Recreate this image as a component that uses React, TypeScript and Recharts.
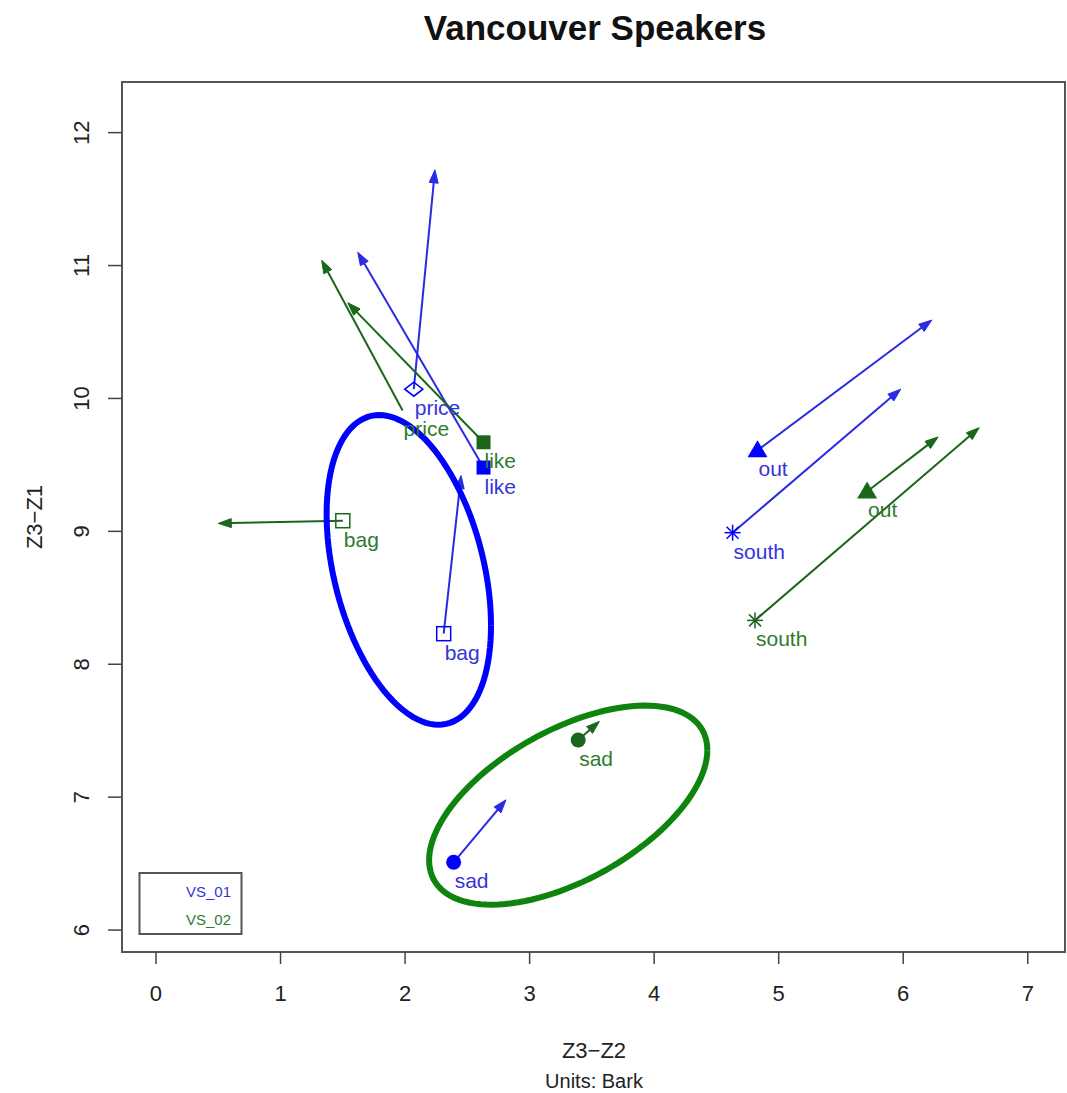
import React from 'react';
import {
  ScatterChart,
  Scatter,
  XAxis,
  YAxis,
  ReferenceLine,
  ReferenceArea,
  Customized,
} from 'recharts';

// ---------- data ----------
const words = ['price', 'like', 'bag', 'sad', 'out', 'south'];
const vs01Markers = ['diamond', 'squareFilled', 'squareOpen', 'circleFilled', 'triangleFilled', 'asterisk'];
const vs02Markers = ['none', 'squareFilled', 'squareOpen', 'circleFilled', 'triangleFilled', 'asterisk'];

const vs01X = [2.07, 2.63, 2.31, 2.39, 4.83, 4.63];
const vs01Y = [10.07, 9.48, 8.23, 6.51, 9.61, 8.99];
const vs01EndX = [2.24, 1.62, 2.45, 2.81, 6.23, 5.98];
const vs01EndY = [11.72, 11.1, 9.42, 6.98, 10.59, 10.07];

const vs02X = [1.98, 2.63, 1.5, 3.39, 5.71, 4.81];
const vs02Y = [9.91, 9.67, 9.08, 7.43, 9.3, 8.33];
const vs02EndX = [1.33, 1.54, 0.5, 3.56, 6.28, 6.61];
const vs02EndY = [11.04, 10.72, 9.06, 7.57, 9.71, 9.78];

// ellipse parameters: [VS_01 ellipse, VS_02 ellipse]
const ellipseCenterX = [2.03, 3.31];
const ellipseCenterY = [8.71, 6.94];
const ellipseHalfWidth = [0.66, 1.117];
const ellipseHalfHeight = [1.165, 0.749];
const ellipseCorrelation = [-0.36, 0.553];

const xTicks = [0, 1, 2, 3, 4, 5, 6, 7];
const yTicks = [6, 7, 8, 9, 10, 11, 12];
const xDomain: [number, number] = [-0.273, 7.299];
const yDomain: [number, number] = [5.835, 12.381];

const speakers = ['VS_01', 'VS_02'];

// ---------- styles ----------
const BLUE = '#0000ff';
const BLUE_LINE = '#2a2ae4';
const BLUE_TEXT = '#3434d8';
const GREEN = '#1a661a';
const GREEN_TEXT = '#2f7a2f';
const GREEN_ELLIPSE = '#0e840e';
const FONT = '"Liberation Sans", Arial, Helvetica, sans-serif';

// ---------- derived tables ----------
const buildPoints = (xs: number[], ys: number[], markers: string[]) =>
  words.map((w, i) => ({ word: w, x: xs[i], y: ys[i], marker: markers[i] }));

const vs01Points = buildPoints(vs01X, vs01Y, vs01Markers);
const vs02Points = buildPoints(vs02X, vs02Y, vs02Markers);

const buildArrows = (xs: number[], ys: number[], ex: number[], ey: number[]) =>
  words.map((w, i) => ({ word: w, from: { x: xs[i], y: ys[i] }, to: { x: ex[i], y: ey[i] } }));

const vs01Arrows = buildArrows(vs01X, vs01Y, vs01EndX, vs01EndY);
const vs02Arrows = buildArrows(vs02X, vs02Y, vs02EndX, vs02EndY);

const ellipseOutline = (k: number) => {
  const n = 120;
  const d = Math.acos(ellipseCorrelation[k]);
  const pts: { x: number; y: number }[] = [];
  for (let i = 0; i <= n; i++) {
    const t = (2 * Math.PI * i) / n;
    pts.push({
      x: ellipseCenterX[k] + ellipseHalfWidth[k] * Math.cos(t),
      y: ellipseCenterY[k] + ellipseHalfHeight[k] * Math.cos(t - d),
    });
  }
  return pts;
};
const ellipse01 = ellipseOutline(0);
const ellipse02 = ellipseOutline(1);

// ---------- shapes ----------
const arrowShape = (color: string) => (props: any) => {
  const { x1, y1, x2, y2 } = props;
  if (x1 == null || x2 == null) return <g />;
  const ang = Math.atan2(y2 - y1, x2 - x1);
  const L = 13;
  const W = 4.5;
  const bx = x2 - L * Math.cos(ang);
  const by = y2 - L * Math.sin(ang);
  const px = -Math.sin(ang) * W;
  const py = Math.cos(ang) * W;
  return (
    <g>
      <line x1={x1} y1={y1} x2={bx} y2={by} stroke={color} strokeWidth={2} />
      <polygon
        points={`${x2},${y2} ${bx + px},${by + py} ${bx - px},${by - py}`}
        fill={color}
        stroke={color}
        strokeWidth={1}
        strokeLinejoin="round"
      />
    </g>
  );
};

const markerShape = (color: string, textColor: string) => (props: any) => {
  const { cx, cy, payload } = props;
  if (cx == null || cy == null) return <g />;
  let m: React.ReactNode = null;
  switch (payload.marker) {
    case 'diamond':
      m = (
        <polygon
          points={`${cx - 9},${cy} ${cx},${cy - 7} ${cx + 9},${cy} ${cx},${cy + 7}`}
          fill="none"
          stroke={color}
          strokeWidth={1.6}
        />
      );
      break;
    case 'squareFilled':
      m = <rect x={cx - 7} y={cy - 7} width={14} height={14} fill={color} />;
      break;
    case 'squareOpen':
      m = <rect x={cx - 7} y={cy - 7} width={14} height={14} fill="none" stroke={color} strokeWidth={1.5} />;
      break;
    case 'circleFilled':
      m = <circle cx={cx} cy={cy} r={7.5} fill={color} />;
      break;
    case 'triangleFilled':
      m = <polygon points={`${cx},${cy - 10} ${cx + 10},${cy + 7} ${cx - 10},${cy + 7}`} fill={color} />;
      break;
    case 'asterisk':
      m = (
        <g stroke={color} strokeWidth={1.5}>
          <line x1={cx - 8} y1={cy} x2={cx + 8} y2={cy} />
          <line x1={cx} y1={cy - 8} x2={cx} y2={cy + 8} />
          <line x1={cx - 6} y1={cy - 6} x2={cx + 6} y2={cy + 6} />
          <line x1={cx - 6} y1={cy + 6} x2={cx + 6} y2={cy - 6} />
        </g>
      );
      break;
    default:
      m = null;
  }
  return (
    <g>
      {m}
      <text
        x={cx + 1}
        y={cy + 26}
        fill={textColor}
        fontSize={21}
        fontFamily={FONT}
        textAnchor="start"
      >
        {payload.word}
      </text>
    </g>
  );
};

const noDot = () => <g />;

const XTick = (props: any) => {
  const { x, y, payload } = props;
  return (
    <text x={x} y={y + 35} textAnchor="middle" fontSize={22} fontFamily={FONT} fill="#222">
      {payload.value}
    </text>
  );
};

const YTick = (props: any) => {
  const { x, y, payload } = props;
  const bx = x - 19;
  return (
    <text
      x={bx}
      y={y}
      textAnchor="middle"
      fontSize={22}
      fontFamily={FONT}
      fill="#222"
      transform={`rotate(-90, ${bx}, ${y})`}
    >
      {payload.value}
    </text>
  );
};

const Decorations = () => (
  <g fontFamily={FONT}>
    <text x={595} y={40} textAnchor="middle" fontSize={35} fontWeight="bold" fill="#111">
      Vancouver Speakers
    </text>
    <text x={594} y={1058} textAnchor="middle" fontSize={22} fill="#222">
      Z3−Z2
    </text>
    <text x={594} y={1088} textAnchor="middle" fontSize={20} fill="#222">
      Units: Bark
    </text>
    <text x={42} y={517} textAnchor="middle" fontSize={22} fill="#222" transform="rotate(-90, 42, 517)">
      Z3−Z1
    </text>
    <rect x={139.5} y={873} width={102} height={61} fill="#fff" stroke="#555" strokeWidth={2} />
    <text x={231} y={897} textAnchor="end" fontSize={15} fill={BLUE_TEXT}>
      {speakers[0]}
    </text>
    <text x={231} y={925} textAnchor="end" fontSize={15} fill={GREEN_TEXT}>
      {speakers[1]}
    </text>
  </g>
);

export default function App() {
  return (
    <div style={{ position: 'absolute', left: 0, top: 0, width: 1067, height: 1093, background: '#fff' }}>
      <ScatterChart
        width={1067}
        height={1093}
        margin={{ top: 82, right: 2, bottom: 0, left: 0 }}
      >
        <XAxis
          type="number"
          dataKey="x"
          domain={xDomain}
          ticks={xTicks}
          allowDataOverflow
          height={141}
          tickSize={12}
          tickMargin={2}
          tick={XTick}
          axisLine={false}
          tickLine={{ stroke: '#444', strokeWidth: 1.5 }}
        />
        <YAxis
          type="number"
          dataKey="y"
          domain={yDomain}
          ticks={yTicks}
          allowDataOverflow
          width={122}
          tickSize={14}
          tickMargin={0}
          tick={YTick}
          axisLine={false}
          tickLine={{ stroke: '#444', strokeWidth: 1.5 }}
        />
        <ReferenceArea
          x1={xDomain[0]}
          x2={xDomain[1]}
          y1={yDomain[0]}
          y2={yDomain[1]}
          fill="none"
          fillOpacity={0}
          stroke="#555"
          strokeWidth={2}
          ifOverflow="visible"
        />
        <Scatter
          data={ellipse01}
          line={{ stroke: BLUE, strokeWidth: 6 }}
          shape={noDot}
          isAnimationActive={false}
        />
        <Scatter
          data={ellipse02}
          line={{ stroke: GREEN_ELLIPSE, strokeWidth: 6 }}
          shape={noDot}
          isAnimationActive={false}
        />
        {vs01Arrows.map((a) => (
          <ReferenceLine
            key={'a1' + a.word}
            segment={[a.from, a.to]}
            stroke={BLUE_LINE}
            shape={arrowShape(BLUE_LINE)}
            ifOverflow="visible"
          />
        ))}
        {vs02Arrows.map((a) => (
          <ReferenceLine
            key={'a2' + a.word}
            segment={[a.from, a.to]}
            stroke={GREEN}
            shape={arrowShape(GREEN)}
            ifOverflow="visible"
          />
        ))}
        <Scatter data={vs01Points} shape={markerShape(BLUE, BLUE_TEXT)} isAnimationActive={false} />
        <Scatter data={vs02Points} shape={markerShape(GREEN, GREEN_TEXT)} isAnimationActive={false} />
        <Customized component={Decorations} />
      </ScatterChart>
    </div>
  );
}
